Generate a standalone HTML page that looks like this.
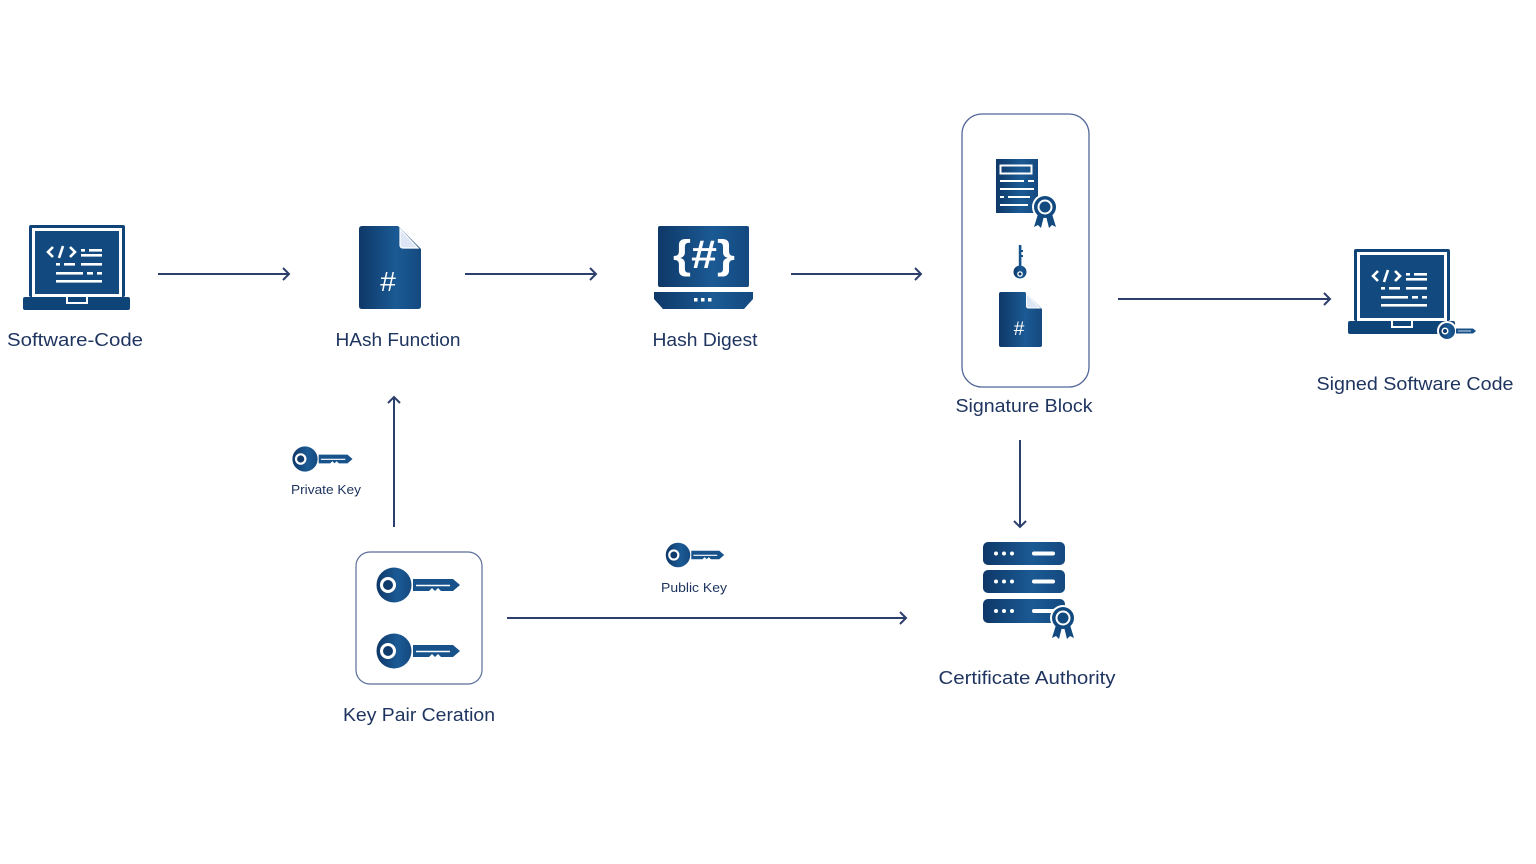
<!DOCTYPE html>
<html><head><meta charset="utf-8"><style>
html,body{margin:0;padding:0;background:#fff;}
svg{display:block;}
text{font-family:"Liberation Sans",Arial,sans-serif;fill:#1f3560;}
</style></head><body>
<svg width="1536" height="864" viewBox="0 0 1536 864" xmlns="http://www.w3.org/2000/svg">
<defs>
<linearGradient id="g" x1="0" y1="0" x2="1" y2="0">
<stop offset="0" stop-color="#0e3868"/><stop offset="0.6" stop-color="#1b5a94"/><stop offset="1" stop-color="#14497f"/>
</linearGradient>
<linearGradient id="gk" x1="0" y1="0" x2="1" y2="0" gradientUnits="userSpaceOnUse" x1="-18" x2="66">
<stop offset="0" stop-color="#0e3565"/><stop offset="0.35" stop-color="#1a5690"/><stop offset="1" stop-color="#1b5a94"/>
</linearGradient>
<g id="key">
<circle cx="0" cy="0" r="17.5" fill="url(#g)"/>
<circle cx="-6" cy="0" r="8" fill="#fff"/>
<circle cx="-6" cy="0" r="5" fill="#0f3a6c"/>
<polygon points="19,-6 59,-6 66,0 59,6 47,6 44,3 41,6 38,3 35,6 19,6" fill="#17528b"/>
<line x1="22" y1="0.5" x2="56" y2="0.5" stroke="#fff" stroke-width="1.6"/>
</g>
<g id="laptop">
<rect x="29" y="225" width="96" height="72" rx="2" fill="#0f4479"/>
<rect x="32" y="228" width="90" height="69" fill="#fff"/>
<rect x="35" y="231" width="84" height="63" fill="#124a80"/>
<rect x="23" y="297" width="107" height="13" rx="2" fill="#0f4479"/>
<rect x="66" y="297" width="22" height="7" fill="#fff"/>
<rect x="68" y="297" width="18" height="5" fill="#0f4479"/>
<g stroke="#fff" stroke-width="2.6" fill="none">
<polyline points="53,247 48,252 53,257"/>
<line x1="63" y1="246" x2="59" y2="258"/>
<polyline points="70,247 75,252 70,257"/>
</g>
<g fill="#fff">
<rect x="81" y="249" width="4" height="2.6"/>
<rect x="89" y="249" width="13" height="2.6"/>
<rect x="81" y="254" width="21" height="2.6"/>
<rect x="56" y="263" width="4" height="2.6"/>
<rect x="64" y="263" width="11" height="2.6"/>
<rect x="81" y="263" width="21" height="2.6"/>
<rect x="56" y="272" width="27" height="2.6"/>
<rect x="87" y="272" width="6" height="2.6"/>
<rect x="97" y="272" width="5" height="2.6"/>
<rect x="56" y="280" width="46" height="2.6"/>
</g>
</g>
</defs>

<!-- Arrows -->
<g stroke="#2c3e6b" stroke-width="2" fill="none">
<line x1="158" y1="274" x2="289" y2="274"/><polyline points="283,268 289,274 283,280"/>
<line x1="465" y1="274" x2="596" y2="274"/><polyline points="590,268 596,274 590,280"/>
<line x1="791" y1="274" x2="921" y2="274"/><polyline points="915,268 921,274 915,280"/>
<line x1="1118" y1="299" x2="1330" y2="299"/><polyline points="1324,293 1330,299 1324,305"/>
<line x1="394" y1="527" x2="394" y2="397"/><polyline points="388,403 394,397 400,403"/>
<line x1="507" y1="618" x2="906" y2="618"/><polyline points="900,612 906,618 900,624"/>
<line x1="1020" y1="440" x2="1020" y2="527"/><polyline points="1014,521 1020,527 1026,521"/>
</g>

<!-- Software-Code laptop -->
<use href="#laptop"/>
<text x="75" y="346" font-size="18" text-anchor="middle" textLength="136" lengthAdjust="spacingAndGlyphs">Software-Code</text>

<!-- Hash Function doc -->
<path d="M362,226 H398 L421,249 V306 Q421,309 418,309 H362 Q359,309 359,306 V229 Q359,226 362,226 Z" fill="url(#g)"/>
<path d="M400,229 V245 Q400,248 403,248 H418 Z" fill="#dde6f5" stroke="#fff" stroke-width="1.2"/>
<text x="388" y="291" font-size="28" fill="#fff" style="fill:#fff" text-anchor="middle">#</text>
<text x="398" y="346" font-size="18" text-anchor="middle" textLength="125" lengthAdjust="spacingAndGlyphs">HAsh Function</text>

<!-- Hash Digest -->
<rect x="658" y="226" width="91" height="61" rx="2" fill="url(#g)"/>
<polygon points="654,292 753,292 753,299 744,309 663,309 654,299" fill="url(#g)"/>
<g fill="#fff"><rect x="694" y="298" width="3.5" height="3.5"/><rect x="701" y="298" width="3.5" height="3.5"/><rect x="708" y="298" width="3.5" height="3.5"/></g>
<text x="704" y="268" font-size="40" font-weight="bold" text-anchor="middle" style="fill:#fff" textLength="62" lengthAdjust="spacingAndGlyphs">{#}</text>
<text x="705" y="346" font-size="18" text-anchor="middle" textLength="105" lengthAdjust="spacingAndGlyphs">Hash Digest</text>

<!-- Signature Block -->
<rect x="962" y="114" width="127" height="273" rx="20" fill="none" stroke="#52669a" stroke-width="1.3"/>
<rect x="996" y="159" width="42" height="54" fill="url(#g)"/>
<g stroke="#fff" stroke-width="2" fill="none">
<rect x="1000.5" y="165.5" width="31" height="8"/>
<line x1="1000" y1="181" x2="1024" y2="181"/><line x1="1028" y1="181" x2="1034" y2="181"/>
<line x1="1000" y1="189" x2="1034" y2="189"/>
<line x1="1000" y1="197" x2="1004" y2="197"/><line x1="1008" y1="197" x2="1030" y2="197"/>
<line x1="1000" y1="205" x2="1028" y2="205"/>
</g>
<circle cx="1045" cy="207" r="13" fill="#fff"/>
<polygon points="1038,214 1034,227 1038,225 1041,228 1044,216" fill="#124a80"/>
<polygon points="1052,214 1056,227 1052,225 1049,228 1046,216" fill="#124a80"/>
<circle cx="1045" cy="207" r="11" fill="#124a80"/>
<circle cx="1045" cy="207" r="7.5" fill="#fff"/>
<circle cx="1045" cy="207" r="5.5" fill="#124a80"/>
<!-- vertical key -->
<rect x="1018.8" y="245" width="2.6" height="22" fill="#17528b"/>
<rect x="1021" y="250" width="2" height="2" fill="#17528b"/>
<rect x="1021" y="255" width="2" height="2" fill="#17528b"/>
<circle cx="1020" cy="272" r="6.5" fill="url(#g)"/>
<circle cx="1020" cy="274" r="2.8" fill="#fff"/>
<circle cx="1020" cy="274" r="1.5" fill="#0f3a6c"/>
<!-- small hash doc -->
<path d="M1001,292 H1025 L1042,309 V345 Q1042,347 1040,347 H1001 Q999,347 999,345 V294 Q999,292 1001,292 Z" fill="url(#g)"/>
<path d="M1026.5,294 V306 Q1026.5,308 1028.5,308 H1040 Z" fill="#dde6f5" stroke="#fff" stroke-width="1"/>
<text x="1019" y="335" font-size="19" text-anchor="middle" style="fill:#fff">#</text>
<text x="1024" y="412" font-size="18" text-anchor="middle" textLength="137" lengthAdjust="spacingAndGlyphs">Signature Block</text>

<!-- Signed laptop -->
<use href="#laptop" transform="translate(1325,24)"/>
<circle cx="1447" cy="331" r="10" fill="#fff"/>
<circle cx="1447" cy="331" r="8" fill="url(#g)"/>
<circle cx="1445" cy="331" r="3.5" fill="#fff"/>
<circle cx="1445" cy="331" r="2" fill="#0f3a6c"/>
<polygon points="1456,328.5 1473,328.5 1476,331 1473,333.5 1456,333.5" fill="#17528b"/>
<line x1="1458" y1="331" x2="1471" y2="331" stroke="#fff" stroke-width="0.8"/>
<text x="1415" y="390" font-size="18" text-anchor="middle" textLength="197" lengthAdjust="spacingAndGlyphs">Signed Software Code</text>

<!-- Private key -->
<use href="#key" transform="translate(305,459) scale(0.72)"/>
<text x="326" y="494" font-size="13" text-anchor="middle" textLength="70" lengthAdjust="spacingAndGlyphs">Private Key</text>

<!-- Key Pair box -->
<rect x="356" y="552" width="126" height="132" rx="14" fill="none" stroke="#5a6e98" stroke-width="1.2"/>
<use href="#key" transform="translate(394,585)"/>
<use href="#key" transform="translate(394,651)"/>
<text x="419" y="721" font-size="18" text-anchor="middle" textLength="152" lengthAdjust="spacingAndGlyphs">Key Pair Ceration</text>

<!-- Public key -->
<use href="#key" transform="translate(678,555) scale(0.7)"/>
<text x="694" y="592" font-size="13" text-anchor="middle" textLength="66" lengthAdjust="spacingAndGlyphs">Public Key</text>

<!-- Certificate Authority server -->
<g fill="url(#g)">
<rect x="983" y="542" width="82" height="23" rx="5"/>
<rect x="983" y="570" width="82" height="23" rx="5"/>
<rect x="983" y="599" width="82" height="24" rx="5"/>
</g>
<g fill="#fff">
<circle cx="996" cy="553.5" r="2"/><circle cx="1004" cy="553.5" r="2"/><circle cx="1012" cy="553.5" r="2"/>
<rect x="1032" y="551.5" width="23" height="4" rx="2"/>
<circle cx="996" cy="581.5" r="2"/><circle cx="1004" cy="581.5" r="2"/><circle cx="1012" cy="581.5" r="2"/>
<rect x="1032" y="579.5" width="23" height="4" rx="2"/>
<circle cx="996" cy="611" r="2"/><circle cx="1004" cy="611" r="2"/><circle cx="1012" cy="611" r="2"/>
<rect x="1032" y="609" width="23" height="4" rx="2"/>
</g>
<circle cx="1063" cy="618" r="13" fill="#fff"/>
<polygon points="1056,625 1052,638 1056,636 1059,639 1062,627" fill="#124a80"/>
<polygon points="1070,625 1074,638 1070,636 1067,639 1064,627" fill="#124a80"/>
<circle cx="1063" cy="618" r="11" fill="#124a80"/>
<circle cx="1063" cy="618" r="7.5" fill="#fff"/>
<circle cx="1063" cy="618" r="5.5" fill="#124a80"/>
<text x="1027" y="684" font-size="18" text-anchor="middle" textLength="177" lengthAdjust="spacingAndGlyphs">Certificate Authority</text>
</svg>
</body></html>
